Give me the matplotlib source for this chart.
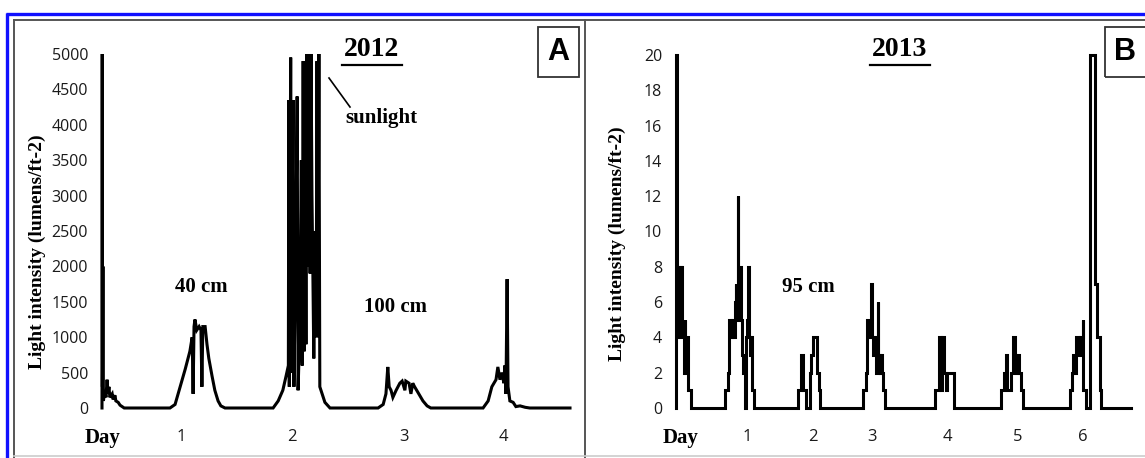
import matplotlib
matplotlib.use("Agg")
import matplotlib.pyplot as plt
from matplotlib.patches import Rectangle
from matplotlib.lines import Line2D

# ---- data: panel A (2012), hours since start vs light intensity
a_hours = [0, 0.05, 0.1, 0.2, 0.3, 0.65, 0.85, 1.1, 1.3, 1.5, 1.7, 2.2, 2.4, 2.8, 3.0, 3.5, 3.9, 4.8,
           14.7, 15.8, 16.9, 18.0, 19.0, 19.5, 19.7, 19.9, 20.1, 20.5, 21.0, 21.4, 21.6, 21.8, 22.3,
           22.7, 23.1, 23.8, 24.4, 25.1, 25.7, 26.6,
           37.0, 38.1, 39.1, 39.8, 40.3, 40.4, 40.5, 40.8, 41.0, 41.3, 41.5, 41.95, 42.2, 42.4, 42.8,
           43.1, 43.3, 43.5, 43.7, 43.9, 44.1, 44.3, 44.5, 44.8, 45.0, 45.2, 45.4, 45.6, 45.8, 46.1,
           46.3, 46.5, 46.7, 46.9, 47.1, 47.6, 48.2, 49.3,
           59.7, 60.8, 61.4, 61.8, 62.1, 62.5, 62.9, 63.6, 64.4, 64.9, 65.5, 65.7, 66.4, 66.8, 67.2,
           67.6, 68.5, 69.4, 70.3, 71.1,
           82.4, 83.5, 84.3, 85.2, 85.6, 86.05, 86.5, 86.9, 87.1, 87.35, 87.6, 87.8, 88.2, 88.9,
           89.5, 90.4, 91.5, 92.5, 101.2]
a_light = [0, 5000, 300, 2000, 100, 250, 150, 400, 200, 300, 150, 200, 120, 180, 100, 80, 40, 0,
           0, 50, 300, 550, 800, 1000, 200, 1150, 1250, 1100, 1150, 1100, 300, 1150, 1150,
           900, 700, 450, 250, 100, 30, 0,
           0, 100, 250, 450, 600, 4350, 300, 4950, 500, 4350, 300, 2500, 4400, 250, 1200,
           3500, 600, 4900, 800, 4000, 900, 5000, 2000, 5000, 1900, 5000, 3000, 1900, 700, 2500,
           1000, 4900, 1000, 5000, 300, 200, 80, 0,
           0, 50, 200, 580, 300, 250, 150, 250, 350, 380, 250, 380, 350, 200, 350,
           300, 200, 100, 30, 0,
           0, 100, 300, 400, 580, 400, 500, 350, 600, 200, 1820, 300, 100, 80,
           20, 30, 10, 0, 0]
a_day_pos = [17.1, 41.1, 65.3, 86.9]
a_day_lab = ["1", "2", "3", "4"]
a_yticks = list(range(0, 5001, 500))

# ---- data: panel B (2013), step changes (hour, value from that hour on)
b_hours = [0, 0.05, 0.36, 0.71, 1.07, 1.61, 1.96, 2.32, 2.68, 3.04, 3.39, 3.75, 4.11, 4.29, 5.18,
           17.5, 18.4, 18.75, 19.1, 19.6, 20.0, 20.5, 20.9, 21.25, 21.6, 22.0, 22.25, 22.6, 23.1,
           23.6, 23.9, 24.5, 25.0, 25.4, 25.8, 26.1, 26.4, 26.8, 27.1, 28.0,
           43.6, 44.8, 45.2, 46.6, 47.9, 48.2, 48.9, 50.4, 50.9, 51.4,
           66.8, 67.9, 68.2, 68.9, 69.8, 70.1, 70.5, 71.1, 71.6, 72.0, 72.25, 72.7, 73.2, 73.6,
           73.9, 74.8,
           92.5, 93.9, 94.6, 95.0, 95.7, 96.4, 96.8, 99.3,
           116.1, 117.0, 117.9, 118.2, 119.6, 120.2, 120.9, 121.4, 122.1, 122.5, 123.2, 124.1,
           140.7, 141.25, 141.8, 142.5, 142.9, 143.9, 144.3, 145.2, 145.5, 146.4, 148.0, 149.6,
           150.4, 151.25, 151.8, 162.5]
b_light = [0, 20, 8, 4, 8, 6, 8, 4, 2, 5, 3, 4, 2, 1, 0,
           1, 2, 3, 5, 4, 5, 4, 6, 7, 5, 12, 7, 8, 5,
           3, 2, 0, 4, 5, 8, 4, 3, 4, 1, 0,
           1, 3, 1, 0, 2, 3, 4, 2, 1, 0,
           1, 2, 5, 4, 7, 4, 3, 4, 2, 6, 3, 2, 3, 2,
           1, 0,
           1, 4, 1, 4, 2, 1, 2, 0,
           1, 2, 3, 1, 2, 4, 3, 2, 3, 2, 1, 0,
           1, 2, 3, 2, 4, 3, 4, 5, 1, 0, 20, 7,
           4, 1, 0, 0]
b_day_pos = [25.4, 48.9, 70.0, 97.1, 122.1, 145.4]
b_day_lab = ["1", "2", "3", "4", "5", "6"]
b_yticks = list(range(0, 21, 2))

W, H = 1145, 458
fig = plt.figure(figsize=(W / 100, H / 100), dpi=100)
fig.patch.set_facecolor("white")


def fx(x):
    return x / W


def fy(y):
    return 1 - y / H


serif = "Liberation Serif"
sans = "Open Sans"

# frames around the figure and panels
fig.add_artist(Line2D([fx(6), fx(1145)], [fy(13.5), fy(13.5)], color="#1010ff", lw=2.4,
                      solid_capstyle="butt"))
fig.add_artist(Line2D([fx(7), fx(7)], [fy(12.5), fy(458)], color="#1010ff", lw=2.4,
                      solid_capstyle="butt"))
for xs, ys in [([14, 1145], [20, 20]), ([14, 14], [20, 458]), ([585, 585], [20, 458])]:
    fig.add_artist(Line2D([fx(v) for v in xs], [fy(v) for v in ys], color="#555555", lw=1.4))
fig.add_artist(Line2D([fx(14), fx(1145)], [fy(456), fy(456)], color="#cccccc", lw=1.2))

panels = [
    dict(x0=102, x1=570, top=54, t=a_hours, v=a_light, ymax=5000, ticks=a_yticks,
         days=a_day_pos, dlab=a_day_lab, xmax=101.2, step=False, day_word=0.2,
         ylab_xy=(37, 252), year="2012", year_xy=(372, 50), ul=(342, 402),
         box=(538, 579), letter="A"),
    dict(x0=676, x1=1131, top=55, t=b_hours, v=b_light, ymax=20, ticks=b_yticks,
         days=b_day_pos, dlab=b_day_lab, xmax=162.5, step=True, day_word=1.8,
         ylab_xy=(617, 244), year="2013", year_xy=(900, 50), ul=(870, 930),
         box=(1105, 1160), letter="B"),
]

for p in panels:
    ax = fig.add_axes([fx(p["x0"]), fy(408), fx(p["x1"] - p["x0"]), (408 - p["top"]) / H])
    ds = "steps-post" if p["step"] else "default"
    ax.plot(p["t"], p["v"], color="black", lw=2.2, drawstyle=ds, clip_on=False,
            solid_joinstyle="miter")
    ax.set_xlim(0, p["xmax"])
    ax.set_ylim(0, p["ymax"])
    ax.set_yticks(p["ticks"])
    ax.tick_params(axis="y", length=0, pad=10, labelsize=11.5, labelcolor="#1a1a1a")
    for lab in ax.get_yticklabels():
        lab.set_fontfamily(sans)
    ax.set_xticks([])
    for s in ax.spines.values():
        s.set_visible(False)
    ax.patch.set_alpha(0)

    yrow = -29 / (408 - p["top"])
    for pos, lab in zip(p["days"], p["dlab"]):
        ax.text(pos, yrow, lab, transform=ax.get_xaxis_transform(), ha="center", va="center",
                fontsize=12, family=sans, color="#1a1a1a")
    ax.text(p["day_word"], yrow - 0.004, "Day", transform=ax.get_xaxis_transform(),
            ha="center", va="center", fontsize=15, family=serif, weight="bold")

    fig.text(fx(p["ylab_xy"][0]), fy(p["ylab_xy"][1]), "Light intensity (lumens/ft-2)",
             rotation=90, ha="center", va="center", fontsize=14, family=serif, weight="bold")
    fig.text(fx(p["year_xy"][0]), fy(p["year_xy"][1]), p["year"], ha="center", va="center",
             fontsize=20, family=serif, weight="bold")
    fig.add_artist(Line2D([fx(p["ul"][0]), fx(p["ul"][1])], [fy(65), fy(65)], color="black", lw=1.6))

    bx0, bx1 = p["box"]
    fig.add_artist(Rectangle((fx(bx0), fy(77)), fx(bx1 - bx0), (77 - 27) / H, fill=False,
                             edgecolor="#333333", lw=1.3))
    fig.text(fx(bx0 + 20), fy(52), p["letter"], ha="center", va="center", fontsize=22,
             family="Liberation Sans", weight="bold")

# annotations
fig.text(fx(201), fy(287), "40 cm", ha="center", va="center", fontsize=15, family=serif, weight="bold")
fig.text(fx(396), fy(307), "100 cm", ha="center", va="center", fontsize=15, family=serif, weight="bold")
fig.text(fx(381), fy(118), "sunlight", ha="center", va="center", fontsize=15, family=serif, weight="bold")
fig.add_artist(Line2D([fx(329), fx(350)], [fy(78), fy(107)], color="black", lw=1.2))
fig.text(fx(808), fy(287), "95 cm", ha="center", va="center", fontsize=15, family=serif, weight="bold")

fig.savefig("out.png", dpi=100)
